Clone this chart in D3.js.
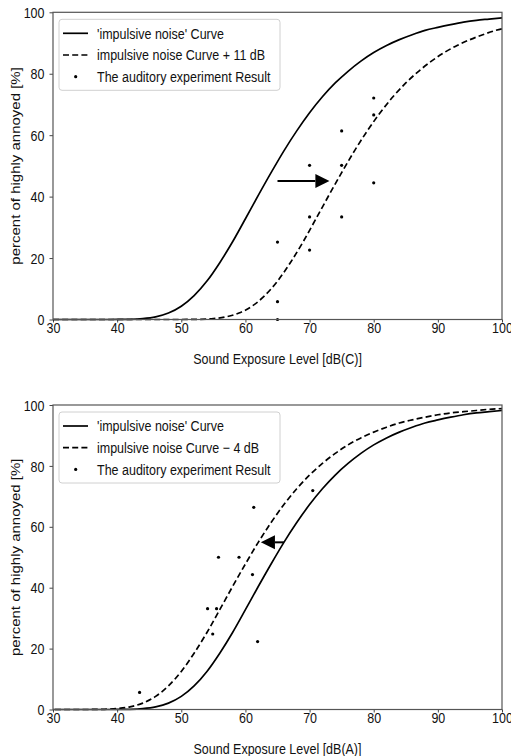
<!DOCTYPE html>
<html>
<head>
<meta charset="utf-8">
<script src="https://cdn.jsdelivr.net/npm/d3@7"></script>
<style>
  body { margin: 0; background: #fff; }
  svg { display: block; font-family: "Liberation Sans", Arial, sans-serif; }
</style>
</head>
<body>
<svg id="chart" width="511" height="756"></svg>
<script>
// ---- data ----
var xTicks = [30, 40, 50, 60, 70, 80, 90, 100];
var yTicks = [0, 20, 40, 60, 80, 100];

// 'impulsive noise' curve, same in both panels
var curveLevels = [30, 32, 34, 36, 38, 40, 42, 44, 46, 48, 50, 52, 54, 56, 58, 60, 62, 64, 66, 68,
                   70, 72, 74, 76, 78, 80, 82, 84, 86, 88, 90, 92, 94, 96, 98, 100];
var curvePct = [0, 0, 0, 0, 0, 0.01, 0.07, 0.29, 0.86, 2.09, 4.3, 7.75, 12.5, 18.5, 25.3, 32.8, 40.4, 47.8, 54.9, 61.4,
                67.3, 72.5, 77.0, 80.8, 84.1, 86.9, 89.2, 91.1, 92.7, 94.1, 95.1, 96.0, 96.8, 97.4, 97.8, 98.2];

// curve + 11 dB (top panel)
var plusLevels = [30, 41, 43, 45, 47, 49, 51, 53, 55, 57, 59, 61, 63, 65, 67, 69, 71, 73, 75, 77, 79,
                  81, 83, 85, 87, 89, 91, 93, 95, 97, 99, 101];
var plusPct = [0, 0, 0, 0, 0, 0, 0.01, 0.07, 0.29, 0.86, 2.09, 4.3, 7.75, 12.5, 18.5, 25.3, 32.8, 40.4, 47.8, 54.9, 61.4,
               67.3, 72.5, 77.0, 80.8, 84.1, 86.9, 89.2, 91.1, 92.7, 94.1, 95.1];

// curve - 4 dB (bottom panel)
var minusLevels = [26, 28, 30, 32, 34, 36, 38, 40, 42, 44, 46, 48, 50, 52, 54, 56, 58, 60, 62, 64,
                   66, 68, 70, 72, 74, 76, 78, 80, 82, 84, 86, 88, 90, 92, 94, 96, 98, 100];
var minusPct = [0, 0, 0, 0, 0, 0.01, 0.07, 0.29, 0.86, 2.09, 4.3, 7.75, 12.5, 18.5, 25.3, 32.8, 40.4, 47.8, 54.9, 61.4,
                67.3, 72.5, 77.0, 80.8, 84.1, 86.9, 89.2, 91.1, 92.7, 94.1, 95.1, 96.0, 96.8, 97.4, 97.8, 98.2, 98.6, 98.8];

// auditory experiment results
var dbC = [65, 65, 65, 70, 70, 70, 75, 75, 75, 80, 80, 80];
var haC = [0, 5.8, 25.2, 22.6, 33.4, 50.2, 33.4, 50.2, 61.4, 44.5, 66.6, 72.1];
var dbA = [43.5, 54.1, 54.9, 55.5, 55.8, 59.0, 61.1, 61.3, 61.9, 70.5];
var haA = [5.6, 33.1, 24.8, 33.1, 50.0, 50.0, 44.3, 66.4, 22.3, 71.9];

// arrows [from dB, to dB, at %]
var arrowC = [65, 73.1, 45.1];
var arrowA = [66.0, 62.4, 54.9];

var FS = 15;       // font size
var SX = 0.833;    // the picture is squeezed horizontally

var svg = d3.select("#chart");

function squeezed(sel, x, y, extra) {
  sel.attr("x", null).attr("y", null)
    .attr("transform", "translate(" + x + "," + y + ") scale(" + SX + ",1)" + (extra || ""))
    .style("font-size", FS + "px").attr("fill", "#111");
  return sel;
}

function drawPanel(cfg) {
  var x = d3.scaleLinear().domain([30, 100]).range([53, 502]);
  var y = d3.scaleLinear().domain([0, 100]).range([cfg.bottom, cfg.top]);
  var g = svg.append("g");

  var clipId = "clip" + cfg.id;
  g.append("clipPath").attr("id", clipId)
    .append("rect")
      .attr("x", 53).attr("y", cfg.top - 2)
      .attr("width", 449).attr("height", cfg.bottom - cfg.top + 4);

  // axes
  var xAxis = g.append("g")
    .attr("transform", "translate(0," + cfg.bottom + ")")
    .call(d3.axisBottom(x).tickValues(xTicks).tickSize(3).tickPadding(0));
  var yAxis = g.append("g")
    .attr("transform", "translate(53,0)")
    .call(d3.axisLeft(y).tickValues(yTicks).tickSize(3.5).tickPadding(2));
  [xAxis, yAxis].forEach(function(a) {
    a.select(".domain").remove();
    a.selectAll("line").attr("stroke", "#444").attr("stroke-width", 1);
    a.selectAll("text").style("font-family", '"Liberation Sans", Arial, sans-serif');
  });
  xAxis.selectAll(".tick text").each(function() {
    squeezed(d3.select(this), 0, 3).attr("dy", "0.71em");
  });
  yAxis.selectAll(".tick text").each(function() {
    squeezed(d3.select(this), -8.5, 0).attr("dy", "0.34em");
  });

  var line = d3.line()
    .x(function(d) { return x(d[0]); })
    .y(function(d) { return y(d[1]); })
    .curve(d3.curveMonotoneX);

  var plot = g.append("g").attr("clip-path", "url(#" + clipId + ")");

  plot.append("path")
    .datum(d3.zip(curveLevels, curvePct))
    .attr("d", line)
    .attr("fill", "none").attr("stroke", "#000").attr("stroke-width", 1.7);

  plot.append("path")
    .datum(d3.zip(cfg.dashX, cfg.dashY))
    .attr("d", line)
    .attr("fill", "none").attr("stroke", "#000").attr("stroke-width", 1.7)
    .attr("stroke-dasharray", "6,3.2");

  plot.selectAll("circle.pt")
    .data(d3.zip(cfg.ptX, cfg.ptY))
    .enter().append("circle")
      .attr("class", "pt")
      .attr("cx", function(d) { return x(d[0]); })
      .attr("cy", function(d) { return y(d[1]); })
      .attr("r", 1.6)
      .attr("fill", "#000");

  // arrow
  var a = cfg.arrow, dir = a[1] > a[0] ? 1 : -1;
  var headLen = 2.2, headHalf = 2.3;
  var baseX = a[1] - dir * headLen;
  g.append("line")
    .attr("x1", x(a[0])).attr("x2", x(baseX))
    .attr("y1", y(a[2])).attr("y2", y(a[2]))
    .attr("stroke", "#000").attr("stroke-width", 2);
  g.append("path")
    .attr("d", "M" + x(a[1]) + "," + y(a[2]) +
               "L" + x(baseX) + "," + y(a[2] + headHalf) +
               "L" + x(baseX) + "," + y(a[2] - headHalf) + "Z")
    .attr("fill", "#000");

  // frame
  g.append("rect")
    .attr("x", 53).attr("y", cfg.top)
    .attr("width", 449).attr("height", cfg.bottom - cfg.top)
    .attr("fill", "none").attr("stroke", "#555").attr("stroke-width", 1.2);

  // labels
  squeezed(g.append("text"), 277.5, cfg.bottom + 44)
    .attr("text-anchor", "middle")
    .text(cfg.xLabel);
  squeezed(g.append("text"), 19.5, (cfg.top + cfg.bottom) / 2, " rotate(-90)")
    .attr("text-anchor", "middle")
    .text("percent of highly annoyed [%]");

  // legend
  var lg = g.append("g").attr("transform", "translate(59," + (cfg.top + 7) + ")");
  lg.append("rect")
    .attr("x", 0).attr("y", 0).attr("width", 221).attr("height", 71)
    .attr("rx", 3).attr("fill", "#fff").attr("fill-opacity", 0.85)
    .attr("stroke", "#d0d0d0").attr("stroke-width", 1);
  var items = [
    { label: "'impulsive noise' Curve", kind: "solid" },
    { label: cfg.dashLabel, kind: "dash" },
    { label: "The auditory experiment Result", kind: "dot" }
  ];
  items.forEach(function(it, i) {
    var yy = 14 + i * 21.7;
    if (it.kind === "dot") {
      lg.append("circle").attr("cx", 16.7).attr("cy", yy).attr("r", 1.6).attr("fill", "#000");
    } else {
      lg.append("line")
        .attr("x1", 4).attr("x2", 29).attr("y1", yy).attr("y2", yy)
        .attr("stroke", "#000").attr("stroke-width", 1.7)
        .attr("stroke-dasharray", it.kind === "dash" ? "6,3.2" : null);
    }
    squeezed(lg.append("text"), 38, yy)
      .attr("dy", "0.35em")
      .text(it.label);
  });
}

drawPanel({
  id: "C", top: 12.3, bottom: 319.5,
  dashX: plusLevels, dashY: plusPct,
  ptX: dbC, ptY: haC, arrow: arrowC,
  xLabel: "Sound Exposure Level [dB(C)]",
  dashLabel: "impulsive noise Curve + 11 dB"
});

drawPanel({
  id: "A", top: 405, bottom: 709.5,
  dashX: minusLevels, dashY: minusPct,
  ptX: dbA, ptY: haA, arrow: arrowA,
  xLabel: "Sound Exposure Level [dB(A)]",
  dashLabel: "impulsive noise Curve \u2212 4 dB"
});
</script>
</body>
</html>
